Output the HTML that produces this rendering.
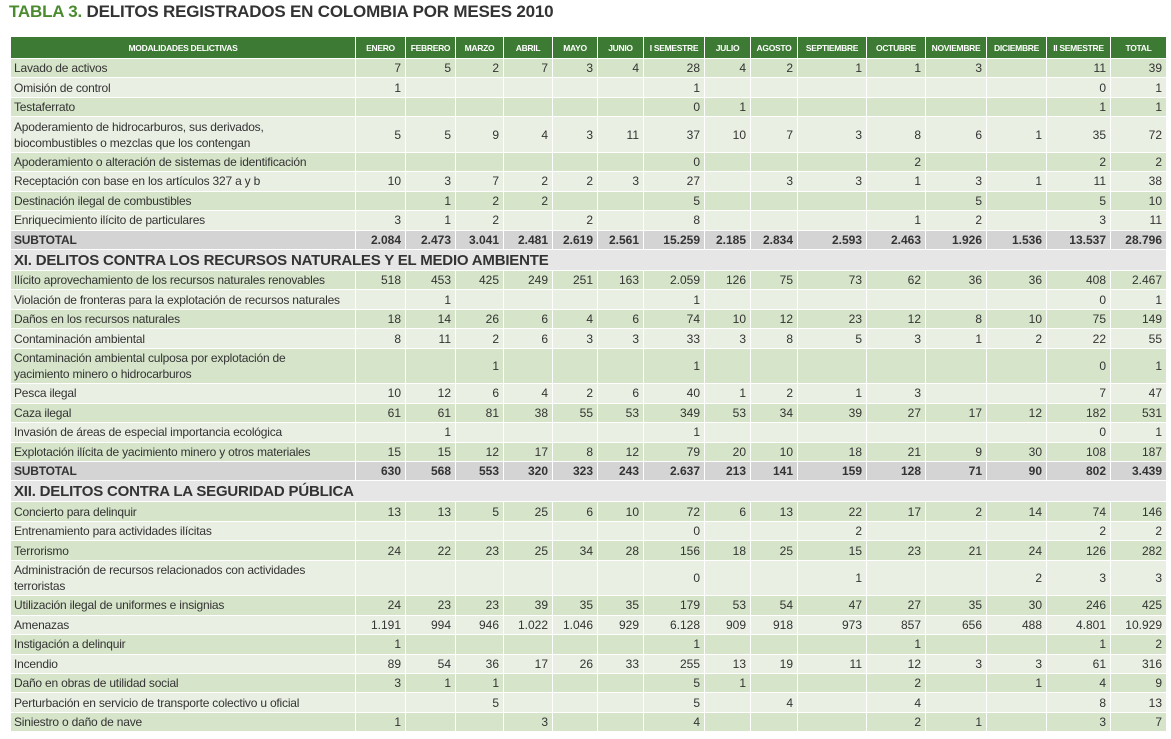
<!DOCTYPE html>
<html><head><meta charset="utf-8">
<style>
body{margin:0;width:1171px;height:739px;background:#fff;font-family:"Liberation Sans",sans-serif;overflow:hidden;position:relative}
#title{position:absolute;left:9px;top:2px;font-size:17px;font-weight:bold;color:#333;letter-spacing:-0.2px}
#title span{color:#4b8b2f}
table{position:absolute;left:10px;top:36px;width:1156px;border-collapse:collapse;table-layout:fixed;font-size:12px;color:#333}
td,th{border:1px solid #fff;padding:0 4px;white-space:nowrap;overflow:hidden}
th{background:#3d7b35;color:#fff;font-size:8.5px;height:21px;letter-spacing:-0.3px}
td{text-align:right;height:18.45px}
td.l{text-align:left;padding-left:3px;font-size:12px;white-space:normal;line-height:16px;letter-spacing:-0.2px}
tr.d td{background:#d6e4ca}
tr.w td{background:#e9efe3}
tr.two td{height:34.5px}
tr.sub td{background:#d4d4d4;font-weight:bold;height:18.45px}
tr.sec td{background:#e6e6e6;font-size:15px;font-weight:bold;text-align:left;height:20px;padding-left:3px;letter-spacing:-0.2px}
</style></head><body>
<div id="title"><span>TABLA 3.</span> DELITOS REGISTRADOS EN COLOMBIA POR MESES 2010</div>
<table id="tbl">
<colgroup><col style="width:345px"><col style="width:50px"><col style="width:50px"><col style="width:48px"><col style="width:49px"><col style="width:45px"><col style="width:46px"><col style="width:61px"><col style="width:46px"><col style="width:47px"><col style="width:69px"><col style="width:59px"><col style="width:61px"><col style="width:60px"><col style="width:64px"><col style="width:56px"></colgroup>
<thead><tr><th>MODALIDADES DELICTIVAS</th><th>ENERO</th><th>FEBRERO</th><th>MARZO</th><th>ABRIL</th><th>MAYO</th><th>JUNIO</th><th>I SEMESTRE</th><th>JULIO</th><th>AGOSTO</th><th>SEPTIEMBRE</th><th>OCTUBRE</th><th>NOVIEMBRE</th><th>DICIEMBRE</th><th>II SEMESTRE</th><th>TOTAL</th></tr></thead>
<tbody id="tb"></tbody></table>
<script>
const rows1=[
["Lavado de activos","7,5,2,7,3,4,28,4,2,1,1,3,,11,39"],
["Omisión de control","1,,,,,,1,,,,,,,0,1"],
["Testaferrato",",,,,,,0,1,,,,,,1,1"],
["Apoderamiento de hidrocarburos, sus derivados,<br>biocombustibles o mezclas que los contengan","5,5,9,4,3,11,37,10,7,3,8,6,1,35,72"],
["Apoderamiento o alteración de sistemas de identificación",",,,,,,0,,,,2,,,2,2"],
["Receptación con base en los artículos 327 a y b","10,3,7,2,2,3,27,,3,3,1,3,1,11,38"],
["Destinación ilegal de combustibles",",1,2,2,,,5,,,,,5,,5,10"],
["Enriquecimiento ilícito de particulares","3,1,2,,2,,8,,,,1,2,,3,11"]];
const sub1="2.084,2.473,3.041,2.481,2.619,2.561,15.259,2.185,2.834,2.593,2.463,1.926,1.536,13.537,28.796";
const rows2=[
["Ilícito aprovechamiento de los recursos naturales renovables","518,453,425,249,251,163,2.059,126,75,73,62,36,36,408,2.467"],
["Violación de fronteras para la explotación de recursos naturales",",1,,,,,1,,,,,,,0,1"],
["Daños en los recursos naturales","18,14,26,6,4,6,74,10,12,23,12,8,10,75,149"],
["Contaminación ambiental","8,11,2,6,3,3,33,3,8,5,3,1,2,22,55"],
["Contaminación ambiental culposa por explotación de<br>yacimiento minero o hidrocarburos",",,1,,,,1,,,,,,,0,1"],
["Pesca ilegal","10,12,6,4,2,6,40,1,2,1,3,,,7,47"],
["Caza ilegal","61,61,81,38,55,53,349,53,34,39,27,17,12,182,531"],
["Invasión de áreas de especial importancia ecológica",",1,,,,,1,,,,,,,0,1"],
["Explotación ilícita de yacimiento minero y otros materiales","15,15,12,17,8,12,79,20,10,18,21,9,30,108,187"]];
const sub2="630,568,553,320,323,243,2.637,213,141,159,128,71,90,802,3.439";
const rows3=[
["Concierto para delinquir","13,13,5,25,6,10,72,6,13,22,17,2,14,74,146"],
["Entrenamiento para actividades ilícitas",",,,,,,0,,,2,,,,2,2"],
["Terrorismo","24,22,23,25,34,28,156,18,25,15,23,21,24,126,282"],
["Administración de recursos relacionados con actividades<br>terroristas",",,,,,,0,,,1,,,2,3,3"],
["Utilización ilegal de uniformes e insignias","24,23,23,39,35,35,179,53,54,47,27,35,30,246,425"],
["Amenazas","1.191,994,946,1.022,1.046,929,6.128,909,918,973,857,656,488,4.801,10.929"],
["Instigación a delinquir","1,,,,,,1,,,,1,,,1,2"],
["Incendio","89,54,36,17,26,33,255,13,19,11,12,3,3,61,316"],
["Daño en obras de utilidad social","3,1,1,,,,5,1,,,2,,1,4,9"],
["Perturbación en servicio de transporte colectivo u oficial",",,5,,,,5,,4,,4,,,8,13"],
["Siniestro o daño de nave","1,,,3,,,4,,,,2,1,,3,7"]];
const tb=document.getElementById('tb');
function addRows(rows){
 rows.forEach((r,i)=>{
  const tr=document.createElement('tr');
  tr.className=(i%2?'w':'d')+(r[0].includes('<br>')?' two':'');
  
  
  tr.innerHTML='<td class="l">'+r[0]+'</td>'+r[1].split(',').map(v=>'<td>'+v+'</td>').join('');
  tb.appendChild(tr);
 });
}
function addSub(s){
 const tr=document.createElement('tr');tr.className='sub';
 
 
 tr.innerHTML='<td class="l" style="font-weight:bold">SUBTOTAL</td>'+s.split(',').map(v=>'<td>'+v+'</td>').join('');
 tb.appendChild(tr);
}
function addSec(t){
 const tr=document.createElement('tr');tr.className='sec';
 
 
 tr.innerHTML='<td colspan="16">'+t+'</td>';
 tb.appendChild(tr);
}
addRows(rows1);addSub(sub1);
addSec('XI. DELITOS CONTRA LOS RECURSOS NATURALES Y EL MEDIO AMBIENTE');
addRows(rows2);addSub(sub2);
addSec('XII. DELITOS CONTRA LA SEGURIDAD PÚBLICA');
addRows(rows3);
</script>
</body></html>
